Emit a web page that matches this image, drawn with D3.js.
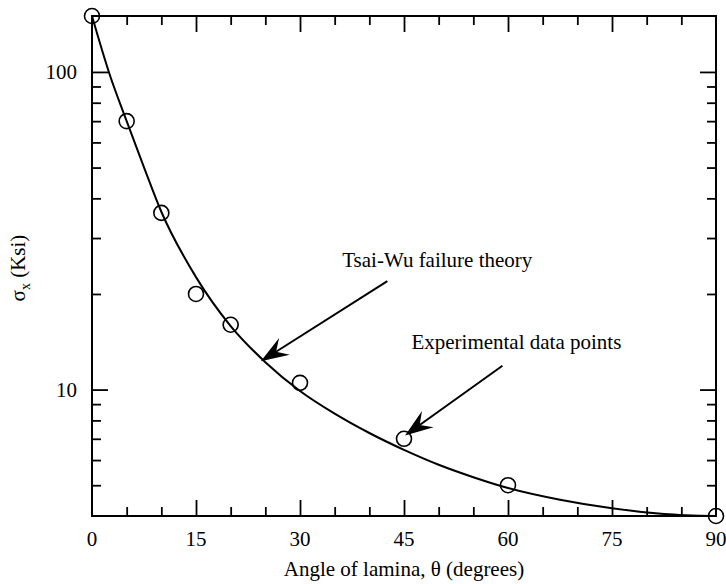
<!DOCTYPE html>
<html><head><meta charset="utf-8">
<script src="https://cdn.jsdelivr.net/npm/d3@7"></script>
<style>
svg text, svg tspan { font-family: "Liberation Serif", serif !important; }
</style>
</head><body style="margin:0"><svg id="c" width="726" height="584" font-family="Liberation Serif"></svg>
<script>
// ---- data ----
const expAngles = [0, 5, 10, 15, 20, 30, 45, 60, 90];
const expValues = [150, 70, 36, 20, 16, 10.5, 7, 5, 4];
const theoryAngles = [0, 2.5, 5, 7.5, 10, 15, 20, 25, 30, 35, 40, 45, 50, 55, 60, 67.5, 75, 82.5, 90];
const theoryValues = [150, 98.9, 70, 50.1, 36.3, 22.6, 15.85, 12.2, 9.9, 8.4, 7.3, 6.46, 5.8, 5.3, 4.9, 4.5, 4.23, 4.06, 4.0];
const xMajorTicks = [0, 15, 30, 45, 60, 75, 90];
const xMinorTicks = [5, 10, 20, 25, 35, 40, 50, 55, 65, 70, 80, 85];
const yMajorTicks = [10, 100];
const yMinorTicks = [5, 6, 7, 8, 9, 20, 30, 40, 50, 60, 70, 80, 90];
const xTitle = "Angle of lamina, θ (degrees)";
const labelTexts = ["Tsai-Wu failure theory", "Experimental data points"];
// annotation anchors in data units (angle, ksi)
const labelAt = [[49.8, 24.4], [46.07, 13.43]];
const labelAnchor = ["middle", "start"];
const arrowFrom = [[42.6, 21.95], [59.2, 11.89]];
const arrowTo = [[24.35, 12.27], [45.15, 7.17]];

// ---- layout ----
const W = 726, H = 584;
const m = {left: 92, right: 10, top: 16, bottom: 68};
const fs = 21;
const svg = d3.select("#c");
const x = d3.scaleLinear().domain([0, 90]).range([m.left, W - m.right]);
const y = d3.scaleLog().domain([4, 150]).range([H - m.bottom, m.top]);
const X0 = x.range()[0], X1 = x.range()[1], Y0 = y.range()[0], Y1 = y.range()[1];

function label(t, px, py, anchor) {
  return svg.append("text").attr("x", px).attr("y", py).attr("font-size", fs)
    .attr("font-family", "Liberation Serif")
    .style("font-family", "Liberation Serif", "important")
    .attr("text-anchor", anchor).text(t);
}

const major = 16, minor = 9;
function ticks(g) {
  g.select(".domain").remove();
  g.attr("font-family", "Liberation Serif");
  g.selectAll(".tick line").attr("stroke", "#000").attr("stroke-width", 1.8);
}
// bottom / top
[[Y0, d3.axisBottom], [Y1, d3.axisTop]].forEach(([py, ax]) => {
  svg.append("g").attr("transform", `translate(0,${py})`)
    .call(ax(x).tickValues(xMinorTicks).tickSize(-minor).tickFormat("")).call(ticks);
  svg.append("g").attr("transform", `translate(0,${py})`)
    .call(ax(x).tickValues(xMajorTicks.filter(v => v > 0 && v < 90)).tickSize(-major).tickFormat("")).call(ticks);
});
// left / right
[[X0, d3.axisLeft], [X1, d3.axisRight]].forEach(([px, ax]) => {
  svg.append("g").attr("transform", `translate(${px},0)`)
    .call(ax(y).tickValues(yMinorTicks).tickSize(-minor).tickFormat("")).call(ticks);
  svg.append("g").attr("transform", `translate(${px},0)`)
    .call(ax(y).tickValues(yMajorTicks).tickSize(-major).tickFormat("")).call(ticks);
});
// tick labels
xMajorTicks.forEach(v => label(String(v), x(v), Y0 + 30, "middle"));
yMajorTicks.forEach(v => label(String(v), X0 - 15, y(v) + 7, "end"));

// frame
svg.append("rect").attr("x", X0).attr("y", Y1).attr("width", X1 - X0).attr("height", Y0 - Y1)
  .attr("fill", "none").attr("stroke", "#000").attr("stroke-width", 2);

// theory curve
const pts = theoryAngles.map((a, i) => [a, theoryValues[i]]);
svg.append("path").datum(pts)
  .attr("d", d3.line().x(d => x(d[0])).y(d => y(d[1])).curve(d3.curveMonotoneX))
  .attr("fill", "none").attr("stroke", "#000").attr("stroke-width", 2);

// experimental points
svg.append("g").selectAll("circle").data(expAngles.map((a, i) => [a, expValues[i]])).join("circle")
  .attr("cx", d => x(d[0])).attr("cy", d => y(d[1])).attr("r", 7.5)
  .attr("fill", "none").attr("stroke", "#000").attr("stroke-width", 1.6);

// annotations
labelTexts.forEach((t, i) => {
  label(t, x(labelAt[i][0]), y(labelAt[i][1]), labelAnchor[i]);
  const sx = x(arrowFrom[i][0]), sy = y(arrowFrom[i][1]);
  const tx = x(arrowTo[i][0]), ty = y(arrowTo[i][1]);
  const dx = sx - tx, dy = sy - ty, L = Math.hypot(dx, dy);
  const ux = dx / L, uy = dy / L, nx = -uy, ny = ux;
  const len = 28, hw = 10, notch = 18;
  svg.append("line").attr("x1", sx).attr("y1", sy).attr("x2", tx + ux * notch).attr("y2", ty + uy * notch)
    .attr("stroke", "#000").attr("stroke-width", 2);
  const p = [[tx, ty], [tx + ux * len + nx * hw, ty + uy * len + ny * hw],
             [tx + ux * notch, ty + uy * notch], [tx + ux * len - nx * hw, ty + uy * len - ny * hw]];
  svg.append("path").attr("d", "M" + p.map(q => q.join(",")).join("L") + "Z").attr("fill", "#000");
});

// axis titles
label(xTitle, (X0 + X1) / 2, 576, "middle");
const yt = label("", 0, 0, "middle").attr("x", null).attr("y", null)
  .attr("transform", `translate(25,${(Y0 + Y1) / 2 + 2}) rotate(-90)`);
yt.append("tspan").text("σ");
yt.append("tspan").attr("font-size", 14).attr("dy", 5).text("x");
yt.append("tspan").attr("dy", -5).text(" (Ksi)");
</script>
</body></html>
